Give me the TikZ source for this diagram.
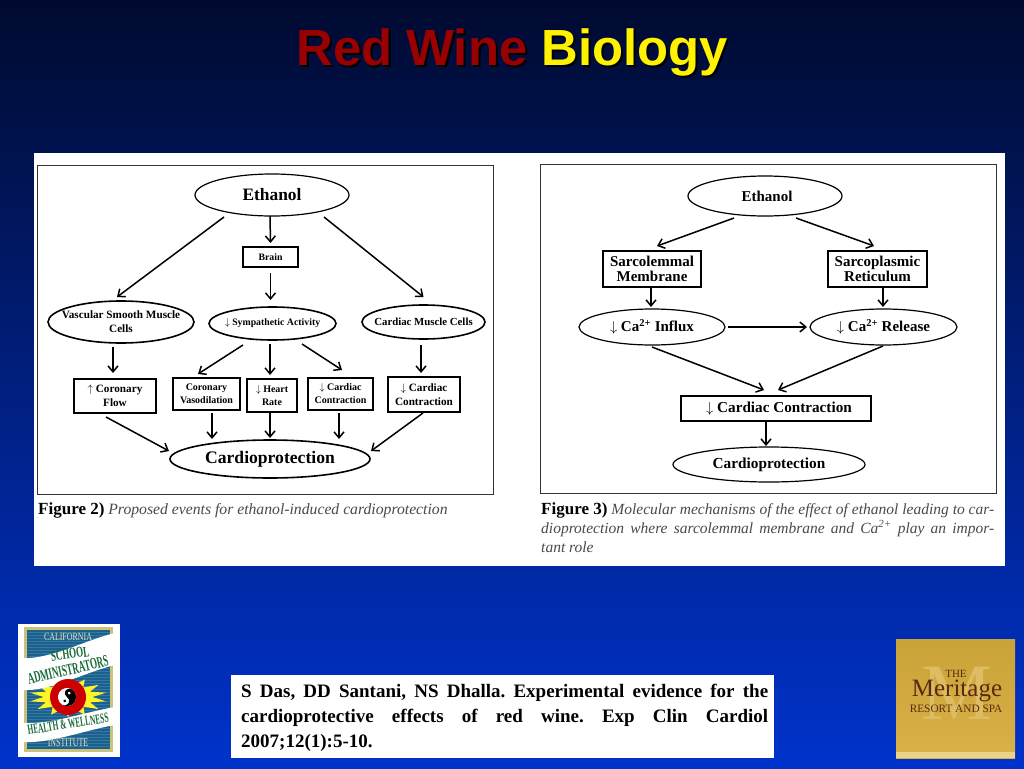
\documentclass[tikz,border=0pt]{standalone}
\usepackage{fontspec}
\setmainfont{Liberation Serif}
\newfontfamily\titre{Liberation Sans}
\usetikzlibrary{shapes.geometric,arrows.meta}
\definecolor{fondhaut}{HTML}{000A30}
\definecolor{fondmilieu}{HTML}{001E82}
\definecolor{fondbas}{HTML}{0033CC}
\definecolor{vin}{HTML}{990000}
\definecolor{legende}{HTML}{4A4A4A}
\definecolor{sapin}{HTML}{17693A}
\definecolor{brun}{HTML}{5A2A10}
\definecolor{olivepale}{HTML}{C9C47A}
\definecolor{bleulogo}{HTML}{1E5F8C}
\definecolor{raie}{HTML}{2F7BA6}
\definecolor{pale}{HTML}{E4E2C0}
\definecolor{orhaut}{HTML}{C9A238}
\definecolor{orbas}{HTML}{D9B148}
\definecolor{orclair}{HTML}{DDBC62}
\definecolor{orbande}{HTML}{EBD48A}
\newcommand{\corps}[2]{\fontsize{#1}{#2}\selectfont\bfseries}
\newcommand{\dn}{\ensuremath{\downarrow}}
\newcommand{\up}{\ensuremath{\uparrow}}
\tikzstyle{ovale}=[ellipse,draw,line width=1.2pt,inner sep=-40pt,outer sep=0pt,align=center]
\tikzstyle{carre}=[rectangle,draw,line width=1.5pt,inner sep=0pt,outer sep=0pt,align=center]
\tikzstyle{fleche}=[line width=1.5pt,-{Straight Barb[length=6pt,width=10pt]}]
\tikzstyle{legendenode}=[anchor=base west,inner sep=0pt,align=justify]
\begin{document}
\frenchspacing
\begin{tikzpicture}[x=1pt,y=-1pt]
\useasboundingbox (0,0) rectangle (1024,768);
\shade[top color=fondhaut,middle color=fondmilieu,bottom color=fondbas] (0,0) rectangle (1024,768);

% title
\node[text=black,font=\titre\bfseries\fontsize{50.8}{56}\selectfont] (T0) at (514,54) {Red Wine Biology};
\node[font=\titre\bfseries\fontsize{50.8}{56}\selectfont] (T1) at (512,52) {\textcolor{vin}{Red Wine} \textcolor{yellow}{Biology}};

% panels
\fill[white] (34,153) rectangle (1005,566);
\draw[line width=0.7pt,black!80] (37,165) rectangle (493,494);
\draw[line width=0.7pt,black!80] (540,164) rectangle (996,493);

% figure 2
\node[ovale,minimum width=154pt,minimum height=42pt,font=\corps{17.4}{20}] (E1) at (272,195) {Ethanol};
\node[carre,minimum width=55pt,minimum height=20pt,font=\corps{9.8}{12}] (B1) at (270.5,257) {Brain};
\node[ovale,line width=1.6pt,minimum width=146pt,minimum height=42pt,font=\corps{11.2}{14}] (V1) at (121,322) {Vascular Smooth Muscle\\Cells};
\node[ovale,line width=1.6pt,minimum width=127pt,minimum height=33pt,font=\corps{9.8}{12}] (S1) at (272.5,323.5) {\dn\ Sympathetic Activity};
\node[ovale,line width=1.6pt,minimum width=123pt,minimum height=34pt,font=\corps{10.8}{13}] (M1) at (423.5,322) {Cardiac Muscle Cells};
\node[carre,minimum width=82pt,minimum height=34pt,font=\corps{11.2}{14}] (F1) at (115,396) {\up\ Coronary\\Flow};
\node[carre,minimum width=67pt,minimum height=32pt,font=\corps{10}{12.5}] (D1) at (206.5,394) {Coronary\\Vasodilation};
\node[carre,minimum width=50pt,minimum height=33pt,font=\corps{10}{13}] (H1) at (272,395.5) {\dn\ Heart\\Rate};
\node[carre,minimum width=65pt,minimum height=32pt,font=\corps{10}{13}] (C1) at (340.5,394) {\dn\ Cardiac\\Contraction};
\node[carre,minimum width=72pt,minimum height=35pt,font=\corps{11.2}{14}] (C2) at (424,394.5) {\dn\ Cardiac\\Contraction};
\node[ovale,line width=1.6pt,minimum width=200pt,minimum height=38pt,font=\corps{17.6}{20}] (P1) at (270,459) {Cardioprotection};

\draw[fleche] ([shift={(-48,1)}]E1.south) -- ([shift={(-4,-4)}]V1.north);
\draw[fleche] ([shift={(-2,0)}]E1.south) -- ([shift={(0,-4)}]B1.north);
\draw[fleche] ([shift={(52,1)}]E1.south) -- ([shift={(0,-8)}]M1.north);
\draw[fleche] ([shift={(0,6)}]B1.south) -- ([shift={(-2,-7)}]S1.north);
\draw[fleche] ([shift={(-8,4)}]V1.south) -- ([shift={(-2,-6)}]F1.north);
\draw[fleche] ([shift={(-29.5,5)}]S1.south) -- ([shift={(-8.5,-4)}]D1.north);
\draw[fleche] ([shift={(-2.5,4)}]S1.south) -- ([shift={(-2,-4)}]H1.north);
\draw[fleche] ([shift={(29.5,4)}]S1.south) -- ([shift={(1.5,-8)}]C1.north);
\draw[fleche] ([shift={(-2.5,6)}]M1.south) -- ([shift={(-3,-4)}]C2.north);
\draw[fleche] ([shift={(-9,4)}]F1.south) -- ([shift={(-1,-8)}]P1.west);
\draw[fleche] ([shift={(5.5,3)}]D1.south) -- ([shift={(-58,-1)}]P1.north);
\draw[fleche] ([shift={(-2,0)}]H1.south) -- ([shift={(0,-2)}]P1.north);
\draw[fleche] ([shift={(-1.5,3)}]C1.south) -- ([shift={(69,-1)}]P1.north);
\draw[fleche] ([shift={(-1,1)}]C2.south) -- ([shift={(1,-8)}]P1.east);

\node[anchor=base west,inner sep=0pt,font=\fontsize{15.7}{19}\selectfont] (L1) at (38,514) {{\fontsize{17}{19}\selectfont\textbf{Figure 2)}} \textcolor{legende}{\textit{Proposed events for ethanol-induced cardioprotection}}};

% figure 3
\node[ovale,minimum width=154pt,minimum height=40pt,font=\corps{15}{18}] (E2) at (765,196) {\hspace{4pt}Ethanol};
\node[carre,minimum width=98pt,minimum height=36pt,font=\corps{15}{15}] (L2) at (652,269) {Sarcolemmal\\Membrane};
\node[carre,minimum width=99pt,minimum height=36pt,font=\corps{15}{15}] (R2) at (877.5,269) {Sarcoplasmic\\Reticulum};
\node[ovale,minimum width=146pt,minimum height=36pt,font=\corps{15}{18}] (I2) at (652,327) {\dn\ Ca\textsuperscript{2+} Influx};
\node[ovale,minimum width=147pt,minimum height=36pt,font=\corps{15}{18}] (A2) at (883.5,327) {\dn\ Ca\textsuperscript{2+} Release};
\node[carre,minimum width=190pt,minimum height=25pt,font=\corps{15.2}{18}] (K2) at (776,408.5) {\hspace{6pt}\dn\ Cardiac Contraction};
\node[ovale,minimum width=192pt,minimum height=35pt,font=\corps{15.3}{18}] (P2) at (769,464.5) {Cardioprotection};

\draw[fleche] ([shift={(-31,2)}]E2.south) -- ([shift={(5,-5)}]L2.north);
\draw[fleche] ([shift={(31,2)}]E2.south) -- ([shift={(-3.5,-5)}]R2.north);
\draw[fleche] ([shift={(-1,0)}]L2.south) -- ([shift={(-1,-2)}]I2.north);
\draw[fleche] ([shift={(5.5,0)}]R2.south) -- ([shift={(-0.5,-2)}]A2.north);
\draw[fleche] ([shift={(3,0)}]I2.east) -- ([shift={(-3,0)}]A2.west);
\draw[fleche] ([shift={(0,2)}]I2.south) -- ([shift={(-12,-6)}]K2.north);
\draw[fleche] ([shift={(-0.5,1)}]A2.south) -- ([shift={(2,-6)}]K2.north);
\draw[fleche] ([shift={(-10,0)}]K2.south) -- ([shift={(-3,-1)}]P2.north);

\node[legendenode,text width=453pt,font=\fontsize{15.5}{19}\selectfont] (L3) at (541,514) {{\fontsize{17}{19}\selectfont\textbf{Figure 3)}} \textcolor{legende}{\textit{Molecular mechanisms of the effect of ethanol leading to car-}}\linebreak\textcolor{legende}{\textit{dioprotection where sarcolemmal membrane and Ca\textsuperscript{2+} play an impor-}}\linebreak\textcolor{legende}{\textit{tant role}}};

% reference
\fill[white] (231,675) rectangle (774,758);
\node[legendenode,text width=527pt,font=\corps{19}{25}] (Z0) at (241,697) {S Das, DD Santani, NS Dhalla. Experimental evidence for the\linebreak cardioprotective effects of red wine. Exp Clin Cardiol\linebreak 2007;12(1):5-10.};

% logo left
\fill[white] (18,624) rectangle (120,757);
\fill[olivepale] (24,627) rectangle (113,752);
\fill[bleulogo] (27,630) rectangle (110,749);
\foreach \ligne in {632,635,...,748} {\draw[raie,line width=0.6pt] (27,\ligne) -- (110,\ligne);}
\node[star,star points=14,star point ratio=1.6,fill=yellow!85!white,minimum size=78pt,inner sep=0pt,yscale=0.5] (G0) at (68,697) {};
\fill[white] (21,658) .. controls (50,660) and (85,640) .. (115,633) -- (115,665) .. controls (85,672) and (50,692) .. (21,690) -- cycle;
\fill[white] (21,723) .. controls (50,725) and (85,712) .. (115,707) -- (115,725) .. controls (85,730) and (50,744) .. (21,742) -- cycle;
\fill[red!80!black] (68,697) ellipse (18pt and 18pt);
\begin{scope}[shift={(67,697)},y=1pt,rotate=-30]
\fill[white] (0,0) circle (9pt);
\fill[black] (0,9) arc (90:-90:9) arc (-90:90:4.5) arc (-90:-270:4.5);
\fill[black] (0,-4.5) circle (1.5pt);
\fill[white] (0,4.5) circle (1.5pt);
\end{scope}
\node[text=pale,font=\fontsize{11}{11}\selectfont] (G1) at (68,637) {\scalebox{.72}[1]{CALIFORNIA}};
\node[text=sapin,rotate=8,font=\corps{15}{15}] (G2) at (70,654) {\scalebox{.6}[1]{SCHOOL}};
\node[text=sapin,rotate=13,font=\corps{16}{16}] (G3) at (68,670) {\scalebox{.56}[1]{ADMINISTRATORS}};
\node[text=sapin,rotate=9,font=\corps{14}{14}] (G4) at (68,724) {\scalebox{.53}[1]{HEALTH \& WELLNESS}};
\node[text=pale,font=\fontsize{12}{12}\selectfont] (G5) at (68,743) {\scalebox{.66}[1]{INSTITUTE}};

% logo right
\shade[top color=orhaut,bottom color=orbas] (896,639) rectangle (1015,758);
\fill[orbande] (896,752) rectangle (1015,758);
\node[text=orclair,font=\fontsize{80}{80}\selectfont] (W0) at (957,693) {M};
\node[text=brun,font=\fontsize{11}{11}\selectfont] (W1) at (956,674) {THE};
\node[text=brun,font=\fontsize{25}{25}\selectfont] (W2) at (957,691) {Meritage};
\node[text=brun,font=\fontsize{11.3}{11}\selectfont] (W3) at (956,709) {RESORT AND SPA};
\end{tikzpicture}
\end{document}
